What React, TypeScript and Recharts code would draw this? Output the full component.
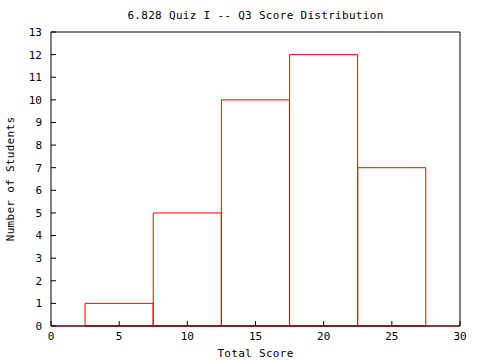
import { ComposedChart, Bar, XAxis, YAxis, ReferenceLine, Label } from 'recharts';

// histogram bins (centres) and counts
const binCenters = [5, 10, 15, 20, 25];
const studentCounts = [1, 5, 10, 12, 7];
const xTicks = [0, 5, 10, 15, 20, 25, 30];
const yTicks = [0, 1, 2, 3, 4, 5, 6, 7, 8, 9, 10, 11, 12, 13];

const FONT = '"DejaVu Sans Mono", monospace';
const tickStyle = { fontSize: 11, fill: '#000', fontFamily: FONT };
const labelStyle = { fontSize: 11, fill: '#000', fontFamily: FONT, letterSpacing: 0.3 };

export default function App() {
  const data = binCenters.map((score, i) => ({ score, students: studentCounts[i] }));

  return (
    <div style={{ position: 'absolute', left: 0, top: 0, background: '#fff' }}>
      <ComposedChart
        width={480}
        height={360}
        data={data}
        margin={{ top: 31, right: 19, bottom: 14, left: 0 }}
        barCategoryGap={0}
        barGap={0}
      >
        <XAxis
          xAxisId={0}
          type="number"
          dataKey="score"
          domain={[0, 30]}
          ticks={xTicks}
          height={20}
          tickSize={-5}
          tickMargin={11}
          tick={tickStyle}
          stroke="#000"
          axisLine={{ stroke: '#000' }}
          tickLine={{ stroke: '#000' }}
        >
          <Label value="Total Score" position="bottom" offset={3} style={labelStyle} />
        </XAxis>
        <XAxis
          xAxisId="top"
          orientation="top"
          type="number"
          domain={[0, 30]}
          ticks={xTicks}
          height={1}
          tickSize={-5}
          tick={false}
          axisLine={{ stroke: '#000' }}
          tickLine={{ stroke: '#000' }}
        >
          <Label value="6.828 Quiz I -- Q3 Score Distribution" position="top" offset={12} style={labelStyle} />
        </XAxis>
        <YAxis
          yAxisId={0}
          type="number"
          domain={[0, 13]}
          ticks={yTicks}
          interval={0}
          width={51}
          tickSize={-5}
          tickMargin={14}
          tick={tickStyle}
          axisLine={{ stroke: '#000' }}
          tickLine={{ stroke: '#000' }}
        >
          <Label
            value="Number of Students"
            angle={-90}
            position="insideLeft"
            offset={10}
            style={{ ...labelStyle, textAnchor: 'middle' }}
          />
        </YAxis>
        <YAxis
          yAxisId="right"
          orientation="right"
          type="number"
          domain={[0, 13]}
          ticks={yTicks}
          interval={0}
          width={1}
          tickSize={-5}
          tick={false}
          axisLine={{ stroke: '#000' }}
          tickLine={{ stroke: '#000' }}
        />
        <Bar dataKey="students" fill="none" stroke="#ff0000" strokeWidth={1} isAnimationActive={false} />
        <ReferenceLine y={0} stroke="#ff0000" strokeWidth={1} />
      </ComposedChart>
    </div>
  );
}
